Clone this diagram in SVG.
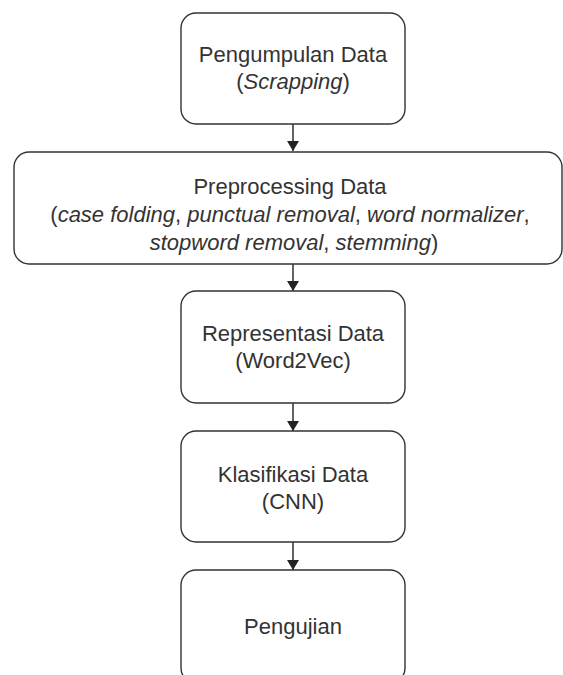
<svg xmlns="http://www.w3.org/2000/svg" width="563" height="675" viewBox="0 0 563 675">
  <style>
    .box { fill: #ffffff; stroke: #333333; stroke-width: 1.4; }
    .lbl { font-family: "Liberation Sans", Arial, sans-serif; font-size: 22px; fill: #333333; text-anchor: middle; }
    .it { font-style: italic; }
    .edge { stroke: #222222; stroke-width: 1.4; fill: none; }
  </style>
  <defs>
    <marker id="arrow" markerWidth="10" markerHeight="12" refX="10" refY="6" orient="auto" markerUnits="userSpaceOnUse">
      <path d="M0,0 L10,6 L0,12 Z" fill="#222222"/>
    </marker>
  </defs>
  <rect width="563" height="675" fill="#ffffff"/>

  <g id="connectors">
    <line class="edge" x1="293" y1="124" x2="293" y2="151" marker-end="url(#arrow)"/>
    <line class="edge" x1="293" y1="264" x2="293" y2="291" marker-end="url(#arrow)"/>
    <line class="edge" x1="293" y1="403" x2="293" y2="431" marker-end="url(#arrow)"/>
    <line class="edge" x1="293" y1="542" x2="293" y2="570" marker-end="url(#arrow)"/>
  </g>

  <g id="pengumpulan">
    <rect class="box" x="181" y="13" width="224" height="111" rx="15" ry="15"/>
    <text class="lbl" x="293" y="62">Pengumpulan Data</text>
    <text class="lbl" x="293" y="89">(<tspan class="it">Scrapping</tspan>)</text>
  </g>

  <g id="preprocessing">
    <rect class="box" x="14" y="152" width="548" height="112" rx="15" ry="15"/>
    <text class="lbl" x="290" y="194">Preprocessing Data</text>
    <text class="lbl" x="290" y="222">(<tspan class="it">case folding</tspan>, <tspan class="it">punctual removal</tspan>, <tspan class="it">word normalizer</tspan>,</text>
    <text class="lbl" x="294" y="249.5"><tspan class="it">stopword removal</tspan>, <tspan class="it">stemming</tspan>)</text>
  </g>

  <g id="representasi">
    <rect class="box" x="181" y="291" width="224" height="112" rx="15" ry="15"/>
    <text class="lbl" x="293" y="341">Representasi Data</text>
    <text class="lbl" x="293" y="368">(Word2Vec)</text>
  </g>

  <g id="klasifikasi">
    <rect class="box" x="181" y="431" width="224" height="111" rx="15" ry="15"/>
    <text class="lbl" x="293" y="482">Klasifikasi Data</text>
    <text class="lbl" x="293" y="509">(CNN)</text>
  </g>

  <g id="pengujian">
    <rect class="box" x="181" y="570" width="224" height="113" rx="15" ry="15"/>
    <text class="lbl" x="293" y="634">Pengujian</text>
  </g>
</svg>
